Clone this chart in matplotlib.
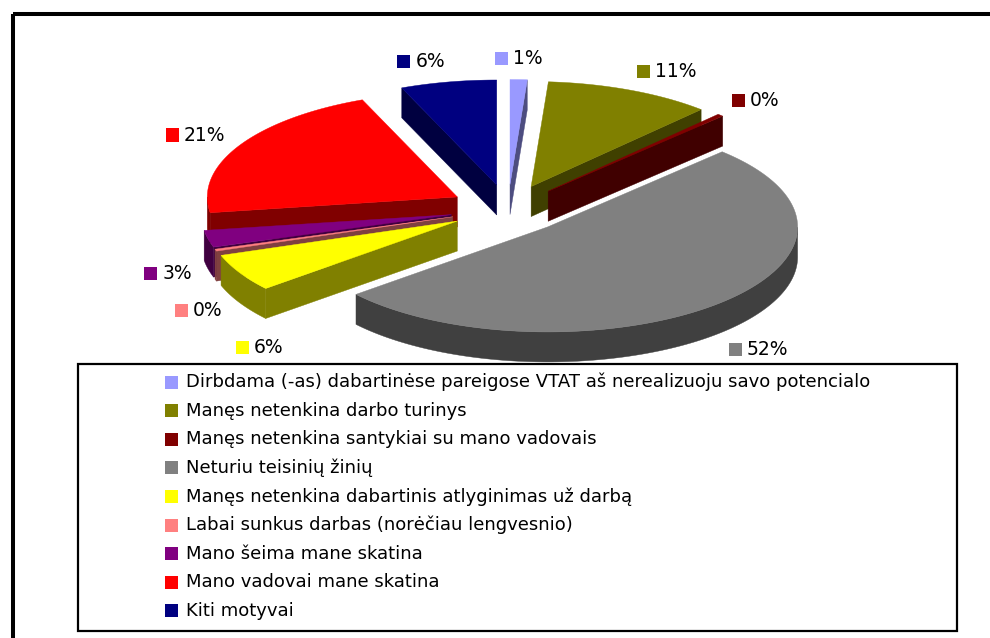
import numpy as np
import matplotlib.pyplot as plt
from matplotlib.patches import Polygon, Rectangle
from matplotlib.offsetbox import DrawingArea, TextArea, HPacker, AnnotationBbox
from matplotlib.colors import to_rgb

categories = [
    "Dirbdama (-as) dabartinėse pareigose VTAT aš nerealizuoju savo potencialo",
    "Manęs netenkina darbo turinys",
    "Manęs netenkina santykiai su mano vadovais",
    "Neturiu teisinių žinių",
    "Manęs netenkina dabartinis atlyginimas už darbą",
    "Labai sunkus darbas (norėčiau lengvesnio)",
    "Mano šeima mane skatina",
    "Mano vadovai mane skatina",
    "Kiti motyvai",
]
shares = [1.1, 10.8, 0.4, 51.6, 5.8, 0.3, 2.6, 21.2, 6.2]
colors = ["#9999FF", "#808000", "#800000", "#808080", "#FFFF00",
          "#FF8080", "#800080", "#FF0000", "#000080"]

# pie geometry in pixels
cx, cy = 508, 209
rx, ry = 250, 105
depth = 30
explode = 0.233

fig = plt.figure(figsize=(9.9, 6.38), dpi=100)
ax = fig.add_axes([0, 0, 1, 1])
ax.set_xlim(0, 990)
ax.set_ylim(638, 0)
ax.axis("off")


def shade(c, f=0.5):
    r, g, b = to_rgb(c)
    return (r * f, g * f, b * f)


total = sum(shares)
cum = np.concatenate([[0], np.cumsum(shares)]) / total * 360.0
slices = []
for i in range(len(shares)):
    t_hi = np.radians(90 - cum[i])
    t_lo = np.radians(90 - cum[i + 1])
    mid = (t_hi + t_lo) / 2
    sx = cx + explode * rx * np.cos(mid)
    sy = cy - explode * ry * np.sin(mid)
    slices.append((i, t_lo, t_hi, mid, sx, sy))

# back to front
z = 1
for i, t_lo, t_hi, mid, sx, sy in sorted(slices, key=lambda s: -np.sin(s[3])):
    col = colors[i]
    dark = shade(col)
    # cut faces
    for te, normal in ((t_lo, t_lo - np.pi / 2), (t_hi, t_hi + np.pi / 2)):
        if np.sin(normal) < -1e-6:
            px, py = sx + rx * np.cos(te), sy - ry * np.sin(te)
            ax.add_patch(Polygon([(sx, sy), (px, py), (px, py + depth), (sx, sy + depth)],
                                 closed=True, fc=dark, ec=dark, lw=0.3, zorder=z))
            z += 1
    # outer wall, front part only
    n = max(3, int(np.degrees(t_hi - t_lo) * 5))
    t = np.linspace(t_lo, t_hi, n)
    front = np.sin(t) < 0
    if front.any():
        idx = np.where(front)[0]
        runs = np.split(idx, np.where(np.diff(idx) > 1)[0] + 1)
        for r in runs:
            if len(r) < 2:
                continue
            xs = sx + rx * np.cos(t[r])
            ys = sy - ry * np.sin(t[r])
            pts = list(zip(xs, ys)) + list(zip(xs[::-1], ys[::-1] + depth))
            ax.add_patch(Polygon(pts, closed=True, fc=dark, ec=dark, lw=0.3, zorder=z))
            z += 1
    # top face
    xs = sx + rx * np.cos(t)
    ys = sy - ry * np.sin(t)
    ax.add_patch(Polygon([(sx, sy)] + list(zip(xs, ys)), closed=True,
                         fc=col, ec=col, lw=0.3, zorder=z))
    z += 1

# data labels on an outer ellipse, pushed apart on the sides
kx, ky = 1.3, 1.43
gap = 37
labels = []
for i, t_lo, t_hi, mid, sx, sy in slices:
    c, s = np.cos(mid), np.sin(mid)
    lx = cx + kx * rx * c
    ly = cy - ky * ry * s + (depth if s < 0 else 0)
    labels.append([i, c, lx, ly])

for side in (-1, 1):
    group = sorted([l for l in labels if side * l[1] > 0.5], key=lambda l: l[3])
    for a, b in zip(group, group[1:]):
        if b[3] - a[3] < gap:
            b[3] = a[3] + gap
            yc = cy + depth if b[3] > cy else cy
            f = np.clip((b[3] - yc) / (ky * ry), -1, 1)
            b[2] = cx + side * kx * rx * np.sqrt(1 - f ** 2)

for i, c, lx, ly in labels:
    da = DrawingArea(9.4, 9.4, 0, 0)
    da.add_artist(Rectangle((0, 0), 9.4, 9.4, fc=colors[i], ec="none"))
    ta = TextArea(f"{round(shares[i] / total * 100):.0f}%",
                  textprops=dict(fontsize=13.5, color="black", family="DejaVu Sans"))
    box = HPacker(children=[da, ta], sep=3.6, pad=0, align="center")
    if abs(c) < 0.1:
        align = (0.5, 0.5)
    elif c < 0:
        align = (1, 0.5)
    else:
        align = (0, 0.5)
    ab = AnnotationBbox(box, (lx, ly), xycoords="data", box_alignment=align,
                        frameon=False, pad=0, zorder=200)
    ax.add_artist(ab)

# legend box
ax.add_patch(Rectangle((78, 364), 879, 267, fill=False, ec="black", lw=1.6, zorder=300))
for k, name in enumerate(categories):
    y = 382 + k * 28.6
    ax.add_patch(Rectangle((165, y - 6.5), 13, 13, fc=colors[k], ec="none", zorder=301))
    ax.text(186, y, name, fontsize=13, family="DejaVu Sans", va="center", ha="left",
            color="black", zorder=301)

# outer chart frame (runs off the right and bottom)
ax.add_patch(Rectangle((12.5, 14), 1100, 700, fill=False, ec="black", lw=2.9,
                       zorder=400, clip_on=False))

fig.savefig("out.png", dpi=100)
